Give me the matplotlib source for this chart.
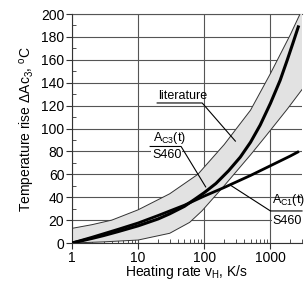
import matplotlib.pyplot as plt
import numpy as np

plt.rcParams['font.family'] = ['Liberation Sans', 'DejaVu Sans']
plt.rcParams['mathtext.fontset'] = 'custom'
plt.rcParams['mathtext.rm'] = 'Liberation Sans'
plt.rcParams['mathtext.it'] = 'Liberation Sans:italic'

# Ac3(t) S460 (thick curve)
ac3_x = [1, 2, 3, 5, 10, 20, 30, 50, 73, 100, 150, 232, 350, 500, 700, 1000, 1400, 1800, 2200, 2680]
ac3_y = [0, 4, 6.5, 10, 15, 21, 25.5, 32, 38.5, 44, 52, 63, 75, 88, 103, 122, 142, 160, 175, 190]

# Ac1(t) S460 (thick line)
ac1_x = [1, 2, 5, 10, 20, 50, 100, 200, 500, 1000, 2000, 2700]
ac1_y = [0, 5, 12, 17.5, 24, 33, 41, 48.5, 59, 67.5, 76, 80]

# literature band
up_x = [1, 2, 4, 10, 30, 80, 200, 500, 1000, 2000, 2800, 3000]
up_y = [12.8, 16, 20, 29, 43, 60, 86, 116, 148, 182, 200, 206]
lo_x = [1, 3, 10, 30, 60, 92, 200, 500, 840, 1800, 3000]
lo_y = [0, 1, 2.6, 8.5, 18, 28, 50, 77, 93, 117, 134]

x_ticks = [1, 10, 100, 1000]
x_ticklabels = ['1', '10', '100', '1000']
y_ticks = list(range(0, 201, 20))

fig = plt.figure(figsize=(3.07, 2.83), dpi=100)
ax = fig.add_axes([0.2345, 0.1413, 0.7492, 0.8092])

ax.set_xscale('log')
ax.set_xlim(1, 3000)
ax.set_ylim(0, 200)

# grid
ax.set_xticks(x_ticks)
ax.set_xticklabels(x_ticklabels)
ax.set_yticks(y_ticks)
ax.grid(True, which='major', color='#555555', lw=0.8)
ax.axhline(200, color='#555555', lw=0.8, clip_on=False)
ax.set_axisbelow(True)

# band
poly_x = np.concatenate([up_x, lo_x[::-1]])
poly_y = np.concatenate([up_y, lo_y[::-1]])
ax.fill(poly_x, poly_y, facecolor='#e2e2e2', edgecolor='none', zorder=2)
ax.plot(up_x, up_y, color='#333333', lw=0.7, zorder=3)
ax.plot(lo_x, lo_y, color='#333333', lw=0.7, zorder=3)

# curves
ax.plot(ac3_x, ac3_y, color='black', lw=2.2, zorder=4, solid_capstyle='butt')
ax.plot(ac1_x, ac1_y, color='black', lw=2.0, zorder=4, solid_capstyle='butt')

# labels with leader lines
fs = 9
ax.text(20.1, 128.8, 'literature', fontsize=fs, ha='left', va='center', zorder=5)
ax.plot([19.4, 93, 295], [122.3, 122.3, 89], color='black', lw=0.8, zorder=5)

ax.text(16.5, 91.7, r'A$_{\rm C3}$(t)', fontsize=fs, ha='left', va='center', zorder=5)
ax.text(16.2, 76.5, 'S460', fontsize=fs, ha='left', va='center', zorder=5,
        bbox=dict(facecolor='white', edgecolor='none', pad=0.5))
ax.plot([15.2, 44.6, 105], [84.3, 84.3, 49], color='black', lw=0.8, zorder=5)

ax.text(1050, 37.6, r'A$_{\rm C1}$(t)', fontsize=fs, ha='left', va='center', zorder=5)
ax.text(1070, 19.2, 'S460', fontsize=fs, ha='left', va='center', zorder=5,
        bbox=dict(facecolor='white', edgecolor='none', pad=0.5))
ax.plot([247, 1000, 3000], [50.6, 28, 28], color='black', lw=0.8, zorder=5, clip_on=False)

# axes style
for s in ['top', 'right']:
    ax.spines[s].set_visible(False)
ax.spines['left'].set_color('#333333')
ax.spines['bottom'].set_color('#333333')
ax.yaxis.set_minor_locator(plt.MultipleLocator(10))
ax.tick_params(which='major', direction='out', length=4, labelsize=10, colors='#333333',
               labelcolor='black', pad=1.5)
ax.tick_params(which='minor', direction='in', length=3, colors='#333333')

ax.set_xlabel(r'Heating rate v$_{\rm H}$, K/s', fontsize=10, labelpad=-1)
ax.set_ylabel(r'Temperature rise $\Delta$Ac$_3$, $^{\rm o}$C', fontsize=10, labelpad=3)

fig.savefig('out.png', dpi=100)
